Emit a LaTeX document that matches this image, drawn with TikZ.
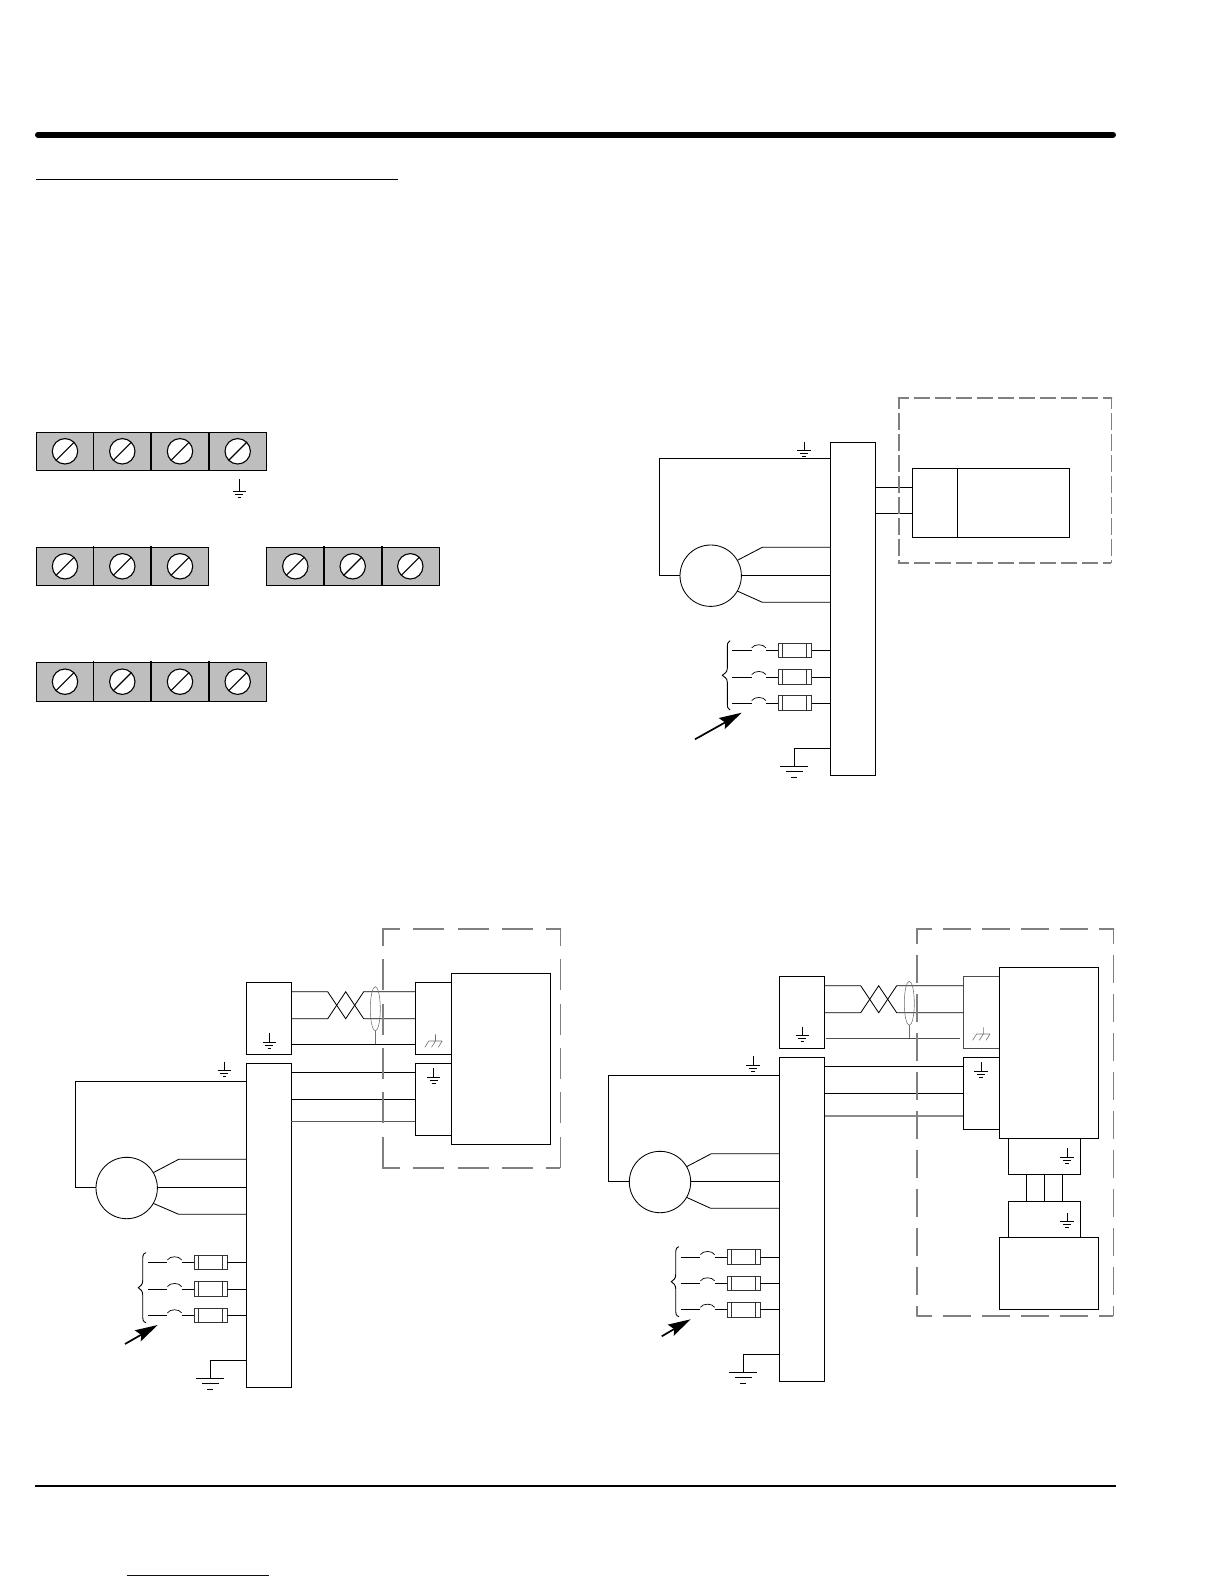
\documentclass[tikz,border=0pt]{standalone}
\usetikzlibrary{shapes.geometric}
\definecolor{stripgrey}{HTML}{BEBEBE}
\definecolor{dashgrey}{HTML}{808080}
\definecolor{thingrey}{HTML}{707070}
\definecolor{linkblue}{HTML}{000090}
\tikzset{
  boxst/.style={draw=black,line width=0.9pt,inner sep=0pt,outer sep=0pt,rectangle,fill=white},
  wire/.style={draw=black,line width=0.85pt},
  motorst/.style={circle,draw=black,line width=0.85pt,inner sep=0pt,outer sep=0pt,minimum size=61.4pt},
  screwst/.style={circle,draw=black,line width=1.1pt,fill=white,inner sep=0pt,outer sep=0pt,minimum size=25.4pt},
  dashbox/.style={draw=dashgrey,line width=1.6pt},
  stripst/.style={rectangle,draw=black,line width=0.9pt,fill=stripgrey,inner sep=0pt,outer sep=0pt},
  fusest/.style={rectangle,draw=black!80,line width=0.9pt,inner sep=0pt,outer sep=0pt,minimum width=33.3pt,minimum height=14.6pt},
  thinst/.style={draw=thingrey,line width=0.55pt},
  gndst/.style={draw=black,line width=0.7pt},
}
\newcommand\mybox[6][]{\node[boxst,#1,minimum width={(#5-#3)*1pt},minimum height={(#6-#4)*1pt}] (#2) at ({(#3+#5)/2},{(#4+#6)/2}) {};}
% dashed frame: x1,y1,x2,y2, on, off, phase
\newcommand\dashframe[7]{%
  \draw[dashbox,dash pattern=on #5pt off #6pt,dash phase=#7pt] (#1,#2) -- (#3,#2);
  \draw[dashbox,dash pattern=on #5pt off #6pt,dash phase=#7pt] (#1,#2) -- (#1,#4);
  \draw[dashbox,dash pattern=on #5pt off #6pt,dash phase=#7pt] (#1,#4) -- (#3,#4);
  \draw[dashbox,dash pattern=on #5pt off #6pt,dash phase=#7pt] (#3,#2) -- (#3,#4);
  \fill[dashgrey] (#1-.8,#2-.8) rectangle (#1+.8,#2+.8) (#3-.8,#2-.8) rectangle (#3+.8,#2+.8) (#1-.8,#4-.8) rectangle (#1+.8,#4+.8);
}
% small earth symbol: x, top of stem, first bar
\newcommand\smallgnd[3]{\draw[gndst] (#1,#2) -- (#1,#3) (#1-6.7,#3) -- (#1+6.7,#3) (#1-4,#3+3) -- (#1+4,#3+3) (#1-1.8,#3+6) -- (#1+1.8,#3+6);}
% large earth symbol: x, first bar
\newcommand\biggnd[2]{\draw[gndst,line width=0.85pt] (#1-14,#2) -- (#1+14,#2) (#1-8.2,#2+5.5) -- (#1+8.2,#2+5.5) (#1-3,#2+11) -- (#1+3,#2+11);}
% chassis symbol: x, top of stem, bar
\newcommand\chassisgnd[3]{\draw[thinst,line width=0.6pt] (#1,#2) -- (#1,#3) (#1-6.7,#3) -- (#1+6.7,#3) (#1-6.7,#3) -- (#1-10.7,#3+6.3) (#1,#3) -- (#1-4,#3+6.3) (#1+6.7,#3) -- (#1+2.7,#3+6.3);}
% one screw: name, x, y
\newcommand\screw[3]{\node[screwst] (#1) at (#2,#3) {}; \draw[black,line width=1.1pt] (#1.225) -- (#1.45);}
% fuse line: name, fuse-left x, y, bus node
\newcommand\fuseline[4]{%
  \node[fusest,anchor=west] (#1) at (#2,#3) {};
  \coordinate (#1free) at (#2-46.3,#3);
  \coordinate (#1a) at (#2-26.6,#3);
  \coordinate (#1b) at (#2-12.3,#3);
  \draw[wire] (#1free) -- (#1a);
  \draw[wire,line width=0.7pt] (#2-26.6,#3-2.4) .. controls (#2-24,#3-6.6) and (#2-15,#3-6.6) .. (#2-12.3,#3-2.4);
  \draw[wire] (#1b) -- (#1.west);
  \draw[wire] (#1.east) -- (#4.west |- #1.east);
  \draw[wire,draw=black!80] (#2+4.4,#3-7.3) -- (#2+4.4,#3+7.3) (#2+28.4,#3-7.3) -- (#2+28.4,#3+7.3);
}
% brace: xend, xmain, xtip, ytop, ymid, ybot
\newcommand\wirebrace[6]{\draw[black,line width=0.9pt] (#1,#4) .. controls (#2,#4+1) and (#2,#4+3) .. (#2,#4+9) -- (#2,#5-7) .. controls (#2,#5-3) and (#3+2,#5-1.5) .. (#3,#5) .. controls (#3+2,#5+1.5) and (#2,#5+3) .. (#2,#5+7) -- (#2,#6-9) .. controls (#2,#6-3) and (#2,#6-1) .. (#1,#6);}
% pointer: start x y, tip x y
\newcommand\pointer[4]{%
  \coordinate (ptip) at (#3,#4);
  \coordinate (pstem) at (#1,#2);
  \draw[black,line width=1.7pt] (pstem) -- (#3-16,#4+9.4);
  \fill[black] (ptip) -- (#3-23,#4+5.3) -- (#3-16.5,#4+9.8) -- (#3-17,#4+16.5) -- cycle;
}
\begin{document}
\begin{tikzpicture}[x=1pt,y=-1pt]
\useasboundingbox (0,0) rectangle (1224,1584);
\fill[white] (0,0) rectangle (1224,1584);

% page rules
\coordinate (rtopL) at (38,134.7); \coordinate (rtopR) at (1113,134.7);
\draw[black,line width=6pt,line cap=round] (rtopL) -- (rtopR);
\coordinate (rthinL) at (36,179.3); \coordinate (rthinR) at (398,179.3);
\draw[black,line width=1pt] (rthinL) -- (rthinR);
\coordinate (rbotL) at (35,1485.7); \coordinate (rbotR) at (1116,1485.7);
\draw[black,line width=2pt] (rbotL) -- (rbotR);
\coordinate (rlinkL) at (127,1575.3); \coordinate (rlinkR) at (269,1575.3);
\draw[linkblue,line width=1pt] (rlinkL) -- (rlinkR);

% terminal strips
\mybox[stripst]{stripa}{36.3}{432.7}{266.7}{470.3}
\mybox[stripst]{stripb}{36.3}{547.3}{208.7}{585.3}
\mybox[stripst]{stripc}{266.3}{547.3}{439.7}{585.3}
\mybox[stripst]{stripd}{36.3}{662.3}{266.7}{701.3}
\foreach \dx in {93.7,151,209}{
  \draw[black,line width=1.5pt] (\dx,431.7) -- (\dx,471.3);
  \draw[black,line width=1.5pt] (\dx,661.3) -- (\dx,702.3);}
\foreach \dx in {93.7,151}{\draw[black,line width=1.5pt] (\dx,546.3) -- (\dx,586.3);}
\foreach \dx in {324,382}{\draw[black,line width=1.5pt] (\dx,546.3) -- (\dx,586.3);}
\screw{sa1}{65}{451.3}\screw{sa2}{122.3}{451.3}\screw{sa3}{180}{451.3}\screw{sa4}{237.7}{451.3}
\screw{sb1}{65}{566.3}\screw{sb2}{122.3}{566.3}\screw{sb3}{180}{566.3}
\screw{sc1}{295.3}{566.3}\screw{sc2}{352.7}{566.3}\screw{sc3}{410.3}{566.3}
\screw{sd1}{65}{681.7}\screw{sd2}{122.3}{681.7}\screw{sd3}{180}{681.7}\screw{sd4}{237.7}{681.7}
\smallgnd{239.3}{479}{491}

% ===== Diagram A =====
\mybox{busA}{830.3}{442.3}{875.3}{775.3}
\node[motorst] (motorA) at (710.7,575.7) {};
\smallgnd{804}{442.3}{450.3}
\draw[wire] (busA.west |- 0,458.3) -- (659.3,458.3) -- (659.3,575) -- (motorA.west |- 0,575);
\draw[wire] (motorA.30) -- (762.3,547.3) -- (busA.west |- 0,547.3);
\draw[wire] (motorA.east |- 0,575) -- (busA.west |- 0,575);
\draw[wire] (motorA.-30) -- (762.3,602.3) -- (busA.west |- 0,602.3);
\mybox{unitA}{912.3}{468.7}{1069.3}{537}
\draw[wire] (957.3,468.7) -- (957.3,537);
\draw[wire] (busA.east |- 0,487) -- (unitA.west |- 0,487);
\draw[wire] (busA.east |- 0,513.3) -- (unitA.west |- 0,513.3);
\fuseline{fA1}{778.3}{650.3}{busA}
\fuseline{fA2}{778.3}{677}{busA}
\fuseline{fA3}{778.3}{703}{busA}
\wirebrace{730}{727.3}{722.3}{640.7}{675.3}{710}
\pointer{695}{739.3}{741.7}{712.7}
\draw[wire] (busA.west |- 0,748.3) -- (794.3,748.3) -- (794.3,766);
\biggnd{794.3}{766}
\dashframe{898.7}{398}{1111.3}{563}{16.5}{4.5}{6}

% ===== Diagram B =====
\mybox{ctrlB}{246.3}{982.3}{291.3}{1054.3}
\mybox{busB}{246.3}{1063.3}{291.3}{1387.3}
\node[motorst] (motorB) at (126.7,1188) {};
\smallgnd{269.3}{1032.7}{1042}
\smallgnd{224.3}{1061.7}{1070.7}
\draw[wire] (busB.west |- 0,1081.3) -- (75.3,1081.3) -- (75.3,1187.3) -- (motorB.west |- 0,1187.3);
\draw[wire] (motorB.30) -- (178.7,1159.3) -- (busB.west |- 0,1159.3);
\draw[wire] (motorB.east |- 0,1187.3) -- (busB.west |- 0,1187.3);
\draw[wire] (motorB.-30) -- (178.7,1214.3) -- (busB.west |- 0,1214.3);
\mybox{termB1}{415.3}{982.3}{451.3}{1054.3}
\mybox{termB2}{415.3}{1063.3}{451.3}{1135.3}
\mybox{bigB}{451.3}{973.3}{550.7}{1144.3}
\draw[wire] (ctrlB.east |- 0,991.7) -- (327.7,991.7) -- (345.7,1018.7) -- (363.7,991.7) -- (termB1.west |- 0,991.7);
\draw[wire] (ctrlB.east |- 0,1018.7) -- (327.7,1018.7) -- (345.7,991.7) -- (363.7,1018.7) -- (termB1.west |- 0,1018.7);
\draw[wire] (ctrlB.east |- 0,1044.3) -- (termB1.west |- 0,1044.3);
\node[ellipse,thinst,minimum width=10pt,minimum height=44.3pt,inner sep=0pt,outer sep=0pt] (shieldB) at (375.3,1008.8) {};
\draw[thinst,line width=0.7pt] (shieldB.south) -- (shieldB.south |- 0,1044.3);
\chassisgnd{435.5}{1034.3}{1041}
\smallgnd{433.7}{1068.3}{1077.3}
\draw[wire] (busB.east |- 0,1072.3) -- (termB2.west |- 0,1072.3);
\draw[wire] (busB.east |- 0,1099.7) -- (termB2.west |- 0,1099.7);
\draw[wire,draw=black!65] (busB.east |- 0,1121.7) -- (termB2.west |- 0,1121.7);
\fuseline{fB1}{194}{1262.3}{busB}
\fuseline{fB2}{194}{1289}{busB}
\fuseline{fB3}{194}{1315.3}{busB}
\wirebrace{146}{142.7}{138.3}{1252.7}{1287.7}{1322.7}
\pointer{125}{1344}{157.7}{1325}
\draw[wire] (busB.west |- 0,1360) -- (210.3,1360) -- (210.3,1378.3);
\biggnd{210.3}{1378.3}
\dashframe{383}{929}{560.3}{1168}{31}{13.3}{14}

% ===== Diagram C =====
\mybox{ctrlC}{779.3}{976.3}{824.7}{1048.3}
\mybox{busC}{779.3}{1057.3}{824.7}{1381}
\node[motorst] (motorC) at (660,1182) {};
\smallgnd{802.3}{1026.7}{1035.3}
\smallgnd{753}{1056}{1065}
\draw[wire] (busC.west |- 0,1075.3) -- (608.3,1075.3) -- (608.3,1181.3) -- (motorC.west |- 0,1181.3);
\draw[wire] (motorC.30) -- (711.3,1153.7) -- (busC.west |- 0,1153.7);
\draw[wire] (motorC.east |- 0,1181.3) -- (busC.west |- 0,1181.3);
\draw[wire] (motorC.-30) -- (710.7,1208.3) -- (busC.west |- 0,1208.3);
\mybox[draw=black!70,line width=1.2pt]{termC1}{963.3}{976.3}{999.3}{1048.3}
\mybox{termC2}{963.3}{1057.3}{999.3}{1129.3}
\mybox{bigC}{999.3}{967.3}{1098.7}{1138.3}
\mybox{subC1}{1008.7}{1138.3}{1080.7}{1174.3}
\mybox{subC2}{1008.7}{1201.3}{1080.7}{1237.3}
\mybox{baseC}{999.3}{1237.3}{1098.3}{1309.3}
\draw[wire] (ctrlC.east |- 0,985.7) -- (860.7,985.7) -- (878.7,1012.7) -- (896.7,985.7) -- (termC1.west |- 0,985.7);
\draw[wire] (ctrlC.east |- 0,1012.7) -- (860.7,1012.7) -- (878.7,985.7) -- (896.7,1012.7) -- (termC1.west |- 0,1012.7);
\coordinate (thirdCa) at (826,1038.3); \coordinate (thirdCb) at (960,1038.3);
\draw[wire,draw=black!70,line width=0.7pt] (thirdCa) -- (thirdCb);
\node[ellipse,thinst,minimum width=10pt,minimum height=44pt,inner sep=0pt,outer sep=0pt] (shieldC) at (909.3,1003.3) {};
\draw[thinst,line width=0.7pt] (shieldC.south) -- (shieldC.south |- 0,1038.3);
\chassisgnd{983.3}{1027.3}{1034}
\smallgnd{981}{1062}{1071}
\smallgnd{1067}{1148.3}{1157.3}
\smallgnd{1067}{1212.7}{1221.7}
\draw[wire] (busC.east |- 0,1066.3) -- (termC2.west |- 0,1066.3);
\draw[wire] (busC.east |- 0,1093.7) -- (termC2.west |- 0,1093.7);
\draw[wire,draw=black!45,line width=1.2pt] (busC.east |- 0,1116) -- (termC2.west |- 0,1116);
\foreach \vx in {1026.7,1044.7,1062.7}{\draw[wire] (subC1.south -| \vx,0) -- (subC2.north -| \vx,0);}
\fuseline{fC1}{727}{1257}{busC}
\fuseline{fC2}{727}{1283.3}{busC}
\fuseline{fC3}{727}{1309.7}{busC}
\wirebrace{679}{675.7}{671.3}{1246.7}{1281.7}{1316.7}
\pointer{661.7}{1336.3}{690.7}{1319.3}
\draw[wire] (busC.west |- 0,1354.3) -- (743.3,1354.3) -- (743.3,1372.3);
\biggnd{743.3}{1372.3}
\dashframe{917}{929}{1113.3}{1315.7}{28}{11}{13}
\end{tikzpicture}
\end{document}
